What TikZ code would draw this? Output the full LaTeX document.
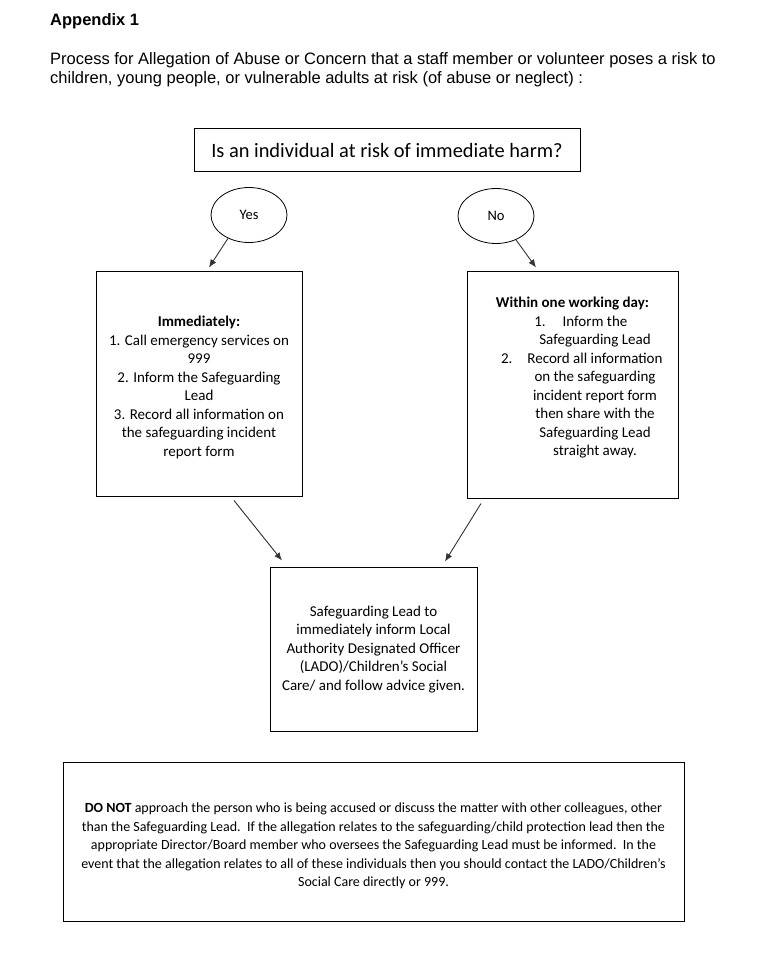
\documentclass[tikz,border=0pt]{standalone}
\usepackage{fontspec}
\setmainfont{Carlito}
\newfontfamily\arialf{Liberation Sans}
\usetikzlibrary{arrows.meta,shapes.geometric}
\newcommand{\numlab}[2]{\makebox[0pt][r]{#1\kern#2}}
\begin{document}
\begin{tikzpicture}[x=1pt,y=-1pt,
  boxst/.style={draw=black,line width=1pt,rectangle,inner sep=0pt},
  ovalst/.style={draw=black,line width=0.8pt,ellipse,minimum width=76pt,minimum height=55pt,inner sep=0pt,font=\fontsize{14.5}{16}\selectfont},
  arr/.style={draw=black!80,line width=0.9pt,-{Latex[length=8pt,width=6.5pt]}},
  bodytxt/.style={align=center,font=\fontsize{15}{18.5}\selectfont,inner sep=0pt},
  headtxt/.style={anchor=west,align=left,inner sep=0pt,font=\arialf\fontsize{16.5}{19}\selectfont}]
\useasboundingbox (0,0) rectangle (783,955);
% header
\node[headtxt,font=\arialf\bfseries\fontsize{16.5}{19}\selectfont] (app) at (50,21) {Appendix 1};
\node[headtxt] (intro) at (50,69.5) {Process for Allegation of Abuse or Concern that a staff member or volunteer poses a risk to\\children, young people, or vulnerable adults at risk (of abuse or neglect) :};
% question
\node[boxst,minimum width=386pt,minimum height=42pt,font=\fontsize{20.4}{24}\selectfont] (q) at (387,150) {Is an individual at risk of immediate harm?};
% yes / no
\node[ovalst] (yes) at (249,215) {Yes};
\node[ovalst] (no) at (496,216) {No};
% left box
\node[boxst,minimum width=206pt,minimum height=225pt] (lbox) at (199,383.5) {};
\node[bodytxt] (ltext) at (199,387.5) {\textbf{Immediately:}\\1. Call emergency services on\\999\\2. Inform the Safeguarding\\Lead\\3. Record all information on\\the safeguarding incident\\report form};
% right box
\node[boxst,minimum width=211pt,minimum height=227pt] (rbox) at (572.5,384.5) {};
\node[bodytxt,font=\bfseries\fontsize{15}{18.5}\selectfont] (rhead) at (572.5,303.5) {Within one working day:};
\node[bodytxt] (rlist) at (595,387) {\numlab{1.}{17pt}Inform the\\Safeguarding Lead\\\numlab{2.}{15pt}Record all information\\on the safeguarding\\incident report form\\then share with the\\Safeguarding Lead\\straight away.};
% centre box
\node[boxst,minimum width=207pt,minimum height=164pt] (cbox) at (373.5,649) {};
\node[bodytxt] (ctext) at (373.5,649.5) {Safeguarding Lead to\\immediately inform Local\\Authority Designated Officer\\(LADO)/Children’s Social\\Care/ and follow advice given.};
% bottom box
\node[boxst,minimum width=621pt,minimum height=159pt] (dbox) at (373.5,841.5) {};
\node[bodytxt,font=\fontsize{14}{18.5}\selectfont] (dtext) at (373.5,846) {\textbf{DO NOT} approach the person who is being accused or discuss the matter with other colleagues, other\\than the Safeguarding Lead.\ \ If the allegation relates to the safeguarding/child protection lead then the\\appropriate Director/Board member who oversees the Safeguarding Lead must be informed.\ \ In the\\event that the allegation relates to all of these individuals then you should contact the LADO/Children’s\\Social Care directly or 999.};
% arrows
\draw[arr] (yes.228) -- ([xshift=10pt,yshift=3pt]lbox.north);
\draw[arr] (no.-50) -- ([xshift=-36.5pt,yshift=3pt]rbox.north);
\draw[arr] ([xshift=35pt,yshift=-4pt]lbox.south) -- ([xshift=-91.5pt,yshift=6pt]cbox.north);
\draw[arr] ([xshift=-91.5pt,yshift=-5pt]rbox.south) -- ([xshift=71.5pt,yshift=5pt]cbox.north);
\end{tikzpicture}
\end{document}
